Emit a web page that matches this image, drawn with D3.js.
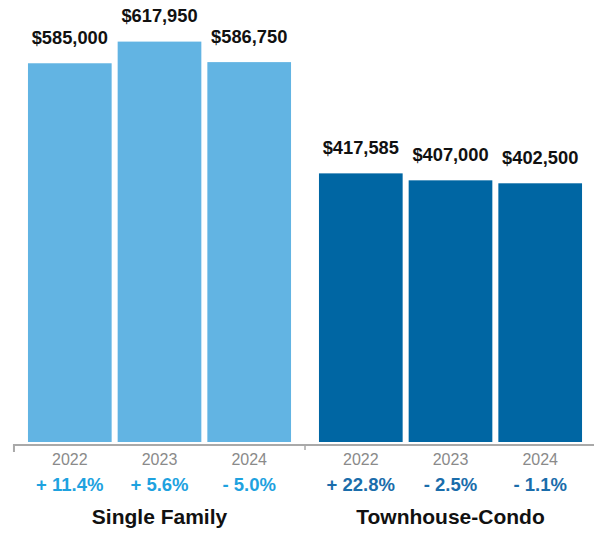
<!DOCTYPE html>
<html>
<head>
<meta charset="utf-8">
<script src="https://cdn.jsdelivr.net/npm/d3@7"></script>
<style>
  html, body { margin: 0; padding: 0; background: #fff; }
  svg { display: block; font-family: "Liberation Sans", Arial, Helvetica, sans-serif; }
</style>
</head>
<body>
<svg id="chart" width="594" height="533"></svg>
<script>
// Median sales price by property type and year
const groups = ["Single Family", "Townhouse-Condo"];
const years = ["2022", "2023", "2024"];
const singleFamily = [585000, 617950, 586750];
const townhouseCondo = [417585, 407000, 402500];
const singleFamilyChange = ["+ 11.4%", "+ 5.6%", "- 5.0%"];
const townhouseCondoChange = ["+ 22.8%", "- 2.5%", "- 1.1%"];

const seriesValues = [singleFamily, townhouseCondo];
const seriesChange = [singleFamilyChange, townhouseCondoChange];
const barColors = ["#62b4e3", "#0066a3"];
const changeColors = ["#1ea2df", "#1a6dab"];

const svg = d3.select("#chart");
const baseline = 442;   // bottom edge of the bars
const axisY = 445;      // gray axis rule

const x0 = d3.scaleBand().domain(groups).range([14, 596])
  .paddingInner(0.096).paddingOuter(0.048);
const x1 = d3.scaleBand().domain(years).range([0, x0.bandwidth()])
  .paddingInner(0.067).paddingOuter(0);
const y = d3.scaleLinear().domain([0, 617950]).range([448, 41.6]);

const rows = groups.flatMap((g, gi) => years.map((yr, i) => ({
  group: g, gi, year: yr, value: seriesValues[gi][i], change: seriesChange[gi][i]
})));

const g = svg.append("g");

// bars
g.selectAll("rect.bar").data(rows).join("rect")
  .attr("class", "bar")
  .attr("x", d => x0(d.group) + x1(d.year))
  .attr("y", d => y(d.value))
  .attr("width", x1.bandwidth())
  .attr("height", d => baseline - y(d.value))
  .attr("fill", d => barColors[d.gi]);

// value labels
g.selectAll("text.val").data(rows).join("text")
  .attr("class", "val")
  .attr("x", d => x0(d.group) + x1(d.year) + x1.bandwidth() / 2)
  .attr("y", d => y(d.value) - 19.5)
  .attr("text-anchor", "middle")
  .attr("font-size", 18.3)
  .attr("font-weight", "bold")
  .attr("fill", "#111")
  .text(d => d3.format("$,")(d.value));

// axis rule with end and divider ticks
const left = x0(groups[0]) - 14;
const divider = (x0(groups[0]) + x0.bandwidth() + x0(groups[1])) / 2;
const axisColor = "#a9a9a9";
g.append("line").attr("x1", left - 1).attr("x2", 594).attr("y1", axisY).attr("y2", axisY)
  .attr("stroke", axisColor).attr("stroke-width", 2);
g.append("line").attr("x1", left).attr("x2", left).attr("y1", axisY).attr("y2", 452)
  .attr("stroke", axisColor).attr("stroke-width", 2);
g.append("line").attr("x1", divider).attr("x2", divider).attr("y1", axisY).attr("y2", 450)
  .attr("stroke", axisColor).attr("stroke-width", 1.5);

// year labels
g.selectAll("text.year").data(rows).join("text")
  .attr("class", "year")
  .attr("x", d => x0(d.group) + x1(d.year) + x1.bandwidth() / 2)
  .attr("y", 464.5)
  .attr("text-anchor", "middle")
  .attr("font-size", 16)
  .attr("fill", "#8a8a8a")
  .text(d => d.year);

// year-over-year change
g.selectAll("text.chg").data(rows).join("text")
  .attr("class", "chg")
  .attr("x", d => x0(d.group) + x1(d.year) + x1.bandwidth() / 2)
  .attr("y", 490.5)
  .attr("text-anchor", "middle")
  .attr("font-size", 18.5)
  .attr("font-weight", "bold")
  .attr("fill", d => changeColors[d.gi])
  .text(d => d.change);

// group names
g.selectAll("text.grp").data(groups).join("text")
  .attr("class", "grp")
  .attr("x", d => x0(d) + x0.bandwidth() / 2)
  .attr("y", 523.5)
  .attr("text-anchor", "middle")
  .attr("font-size", 21)
  .attr("font-weight", "bold")
  .attr("fill", "#111")
  .text(d => d);
</script>
</body>
</html>
